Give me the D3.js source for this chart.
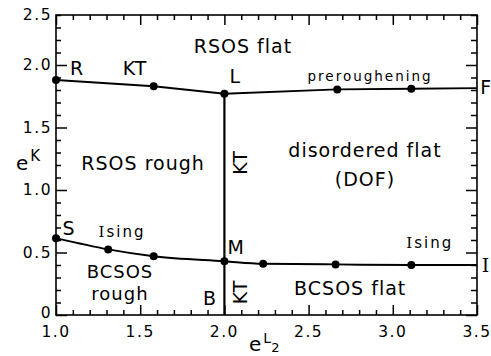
<!DOCTYPE html>
<html>
<head>
<meta charset="utf-8">
<script src="https://cdn.jsdelivr.net/npm/d3@7"></script>
<style>
  body { margin: 0; background: #fff; }
  svg { display: block; font-family: "DejaVu Sans", sans-serif; }
</style>
</head>
<body>
<div id="chart"></div>
<script>
// Phase boundaries (e^L2 on x, e^K on y)
const upperX = [1.0, 1.58, 2.0, 2.67, 3.11, 3.5];
const upperY = [1.88, 1.83, 1.77, 1.805, 1.81, 1.815];
const lowerX = [1.0, 1.31, 1.58, 2.0, 2.23, 2.66, 3.11, 3.5];
const lowerY = [0.615, 0.525, 0.47, 0.43, 0.41, 0.405, 0.40, 0.40];
const ktLineX = [2.0, 2.0];
const ktLineY = [0, 1.77];

const xTicks = [1.0, 1.5, 2.0, 2.5, 3.0, 3.5];
const xTickLabels = ["1.0", "1.5", "2.0", "2.5", "3.0", "3.5"];
// the top label "2.5" sits on the frame, which is at 2.4 on the drawn scale
const yTicks = [0, 0.5, 1.0, 1.5, 2.0, 2.4];
const yTickLabels = ["0", "0.5", "1.0", "1.5", "2.0", "2.5"];

// region and line labels: [lines, x, y, kind]
const labels = [
  [["RSOS flat"], 2.11, 2.096, "big"],
  [["R"], 1.125, 1.92, "big"],
  [["KT"], 1.47, 1.92, "big"],
  [["L"], 2.065, 1.856, "big"],
  [["preroughening"], 2.865, 1.872, "small"],
  [["F"], 3.555, 1.77, "big"],
  [["RSOS rough"], 1.517, 1.16, "big"],
  [["disordered flat", "(DOF)"], 2.835, 1.264, "big"],
  [["S"], 1.077, 0.64, "big"],
  [["M"], 2.07, 0.488, "big"],
  [["BCSOS", "rough"], 1.38, 0.296, "pair"],
  [["B"], 1.915, 0.08, "big"],
  [["BCSOS flat"], 2.747, 0.16, "big"]
];
const isingLabels = [["sing", 1.392, 0.624], ["sing", 3.22, 0.536]];
const ktVertical = [[2.094, 1.22], [2.094, 0.184]];

const W = 491, H = 356;
const margin = { top: 15, right: 14, bottom: 41, left: 56 };
const width = W - margin.left - margin.right;
const height = H - margin.top - margin.bottom;

const svg = d3.select("#chart").append("svg")
  .attr("width", W)
  .attr("height", H);

const x = d3.scaleLinear().domain([1.0, 3.5]).range([margin.left, margin.left + width]);
const y = d3.scaleLinear().domain([0, 2.4]).range([margin.top + height, margin.top]);

// frame with inward ticks on all four sides
const minorX = d3.range(1.0, 3.501, 0.1);
const minorY = d3.range(0, 2.401, 0.1);
const isMajor = (v) => Math.abs(v * 2 - Math.round(v * 2)) < 1e-6;

const axisStyle = (sel) => {
  sel.select(".domain").remove();
  sel.selectAll(".tick line").attr("stroke", "#000").attr("stroke-width", 1.5);
  sel.selectAll(".tick text").remove();
};

svg.append("g")
  .attr("transform", `translate(0,${y(0)})`)
  .call(d3.axisBottom(x).tickValues(minorX).tickSizeOuter(0).tickSizeInner(-5))
  .call(axisStyle)
  .selectAll(".tick line").attr("y2", (d) => (isMajor(d) ? -10 : -5));

svg.append("g")
  .attr("transform", `translate(0,${y(2.4)})`)
  .call(d3.axisTop(x).tickValues(minorX).tickSizeOuter(0).tickSizeInner(-5))
  .call(axisStyle)
  .selectAll(".tick line").attr("y2", (d) => (isMajor(d) ? 10 : 5));

svg.append("g")
  .attr("transform", `translate(${x(1.0)},0)`)
  .call(d3.axisLeft(y).tickValues(minorY).tickSizeOuter(0).tickSizeInner(-5))
  .call(axisStyle)
  .selectAll(".tick line").attr("x2", (d) => (isMajor(d) ? 11 : 5));

svg.append("g")
  .attr("transform", `translate(${x(3.5)},0)`)
  .call(d3.axisRight(y).tickValues(minorY).tickSizeOuter(0).tickSizeInner(-5))
  .call(axisStyle)
  .selectAll(".tick line").attr("x2", (d) => (isMajor(d) ? -11 : -6));

svg.append("rect")
  .attr("x", x(1.0))
  .attr("y", y(2.4))
  .attr("width", x(3.5) - x(1.0))
  .attr("height", y(0) - y(2.4))
  .attr("fill", "none")
  .attr("stroke", "#000")
  .attr("stroke-width", 1.6);

// tick labels
svg.append("g").selectAll("text")
  .data(xTicks)
  .join("text")
  .attr("x", (d) => x(d))
  .attr("y", y(0) + 22)
  .attr("text-anchor", "middle")
  .attr("font-size", "15.5px")
  .attr("letter-spacing", "1.5")
  .text((d, i) => xTickLabels[i]);

svg.append("g").selectAll("text")
  .data(yTicks)
  .join("text")
  .attr("x", x(1.0) - 4)
  .attr("y", (d) => y(d) + (d === 0 ? 3 : 5))
  .attr("text-anchor", "end")
  .attr("font-size", "15.5px")
  .attr("letter-spacing", "1.5")
  .text((d, i) => yTickLabels[i]);

// axis titles
const yTitle = svg.append("text")
  .attr("x", 16)
  .attr("y", y(1.16))
  .attr("font-size", "20px");
yTitle.append("tspan").text("e");
yTitle.append("tspan").attr("dx", 2).attr("dy", -9).attr("font-size", "15px").text("K");

const xTitle = svg.append("text")
  .attr("x", 249)
  .attr("y", 351)
  .attr("font-size", "20px");
xTitle.append("tspan").text("e");
xTitle.append("tspan").attr("dx", 2).attr("dy", -8).attr("font-size", "14px").text("L");
xTitle.append("tspan").attr("dy", 9).attr("font-size", "13px").text("2");

// boundary lines
const line = d3.line().x((d) => x(d[0])).y((d) => y(d[1]));
const upper = upperX.map((v, i) => [v, upperY[i]]);
const lower = lowerX.map((v, i) => [v, lowerY[i]]);
const ktLine = ktLineX.map((v, i) => [v, ktLineY[i]]);

svg.append("path")
  .attr("d", line.curve(d3.curveLinear)(upper))
  .attr("fill", "none").attr("stroke", "#000").attr("stroke-width", 2);
svg.append("path")
  .attr("d", line.curve(d3.curveMonotoneX)(lower))
  .attr("fill", "none").attr("stroke", "#000").attr("stroke-width", 2);
svg.append("path")
  .attr("d", line.curve(d3.curveLinear)(ktLine))
  .attr("fill", "none").attr("stroke", "#000").attr("stroke-width", 2.2);

// measured points (endpoints on the right frame carry no dot)
svg.append("g").selectAll("circle")
  .data(upper.slice(0, -1).concat(lower.slice(0, -1)))
  .join("circle")
  .attr("cx", (d) => x(d[0]))
  .attr("cy", (d) => y(d[1]))
  .attr("r", 4)
  .attr("fill", "#000");

// labels (multi-line ones are wrapped with tspans)
const fontFor = { big: "19px", small: "13.5px", pair: "18px" };
svg.append("g").selectAll("text")
  .data(labels)
  .join("text")
  .attr("x", (d) => x(d[1]))
  .attr("y", (d) => y(d[2]))
  .attr("text-anchor", "middle")
  .attr("font-size", (d) => fontFor[d[3]])
  .attr("letter-spacing", (d) => (d[3] === "small" ? "2" : "1"))
  .each(function (d) {
    const t = d3.select(this);
    const gap = d[3] === "pair" ? 22 : 29;
    d[0].forEach((s, i) => {
      t.append("tspan")
        .attr("x", x(d[1]))
        .attr("dy", i === 0 ? 0 : gap)
        .text(s);
    });
  });

// "Ising" with a serifed capital I
isingLabels.forEach((d) => {
  const t = svg.append("text")
    .attr("x", x(d[1]))
    .attr("y", y(d[2]))
    .attr("text-anchor", "middle")
    .attr("font-size", "15px")
    .attr("letter-spacing", "2");
  t.append("tspan").attr("font-family", "DejaVu Serif").text("I");
  t.append("tspan").text(d[0]);
});

svg.append("text")
  .attr("x", x(3.55))
  .attr("y", y(0.345))
  .attr("text-anchor", "middle")
  .attr("font-family", "DejaVu Serif")
  .attr("font-size", "19px")
  .text("I");

svg.append("g").selectAll("text")
  .data(ktVertical)
  .join("text")
  .attr("transform", (d) => `translate(${x(d[0])},${y(d[1])}) rotate(-90)`)
  .attr("text-anchor", "middle")
  .attr("dy", "0.36em")
  .attr("font-size", "19px")
  .attr("letter-spacing", "1")
  .text("KT");
</script>
</body>
</html>
